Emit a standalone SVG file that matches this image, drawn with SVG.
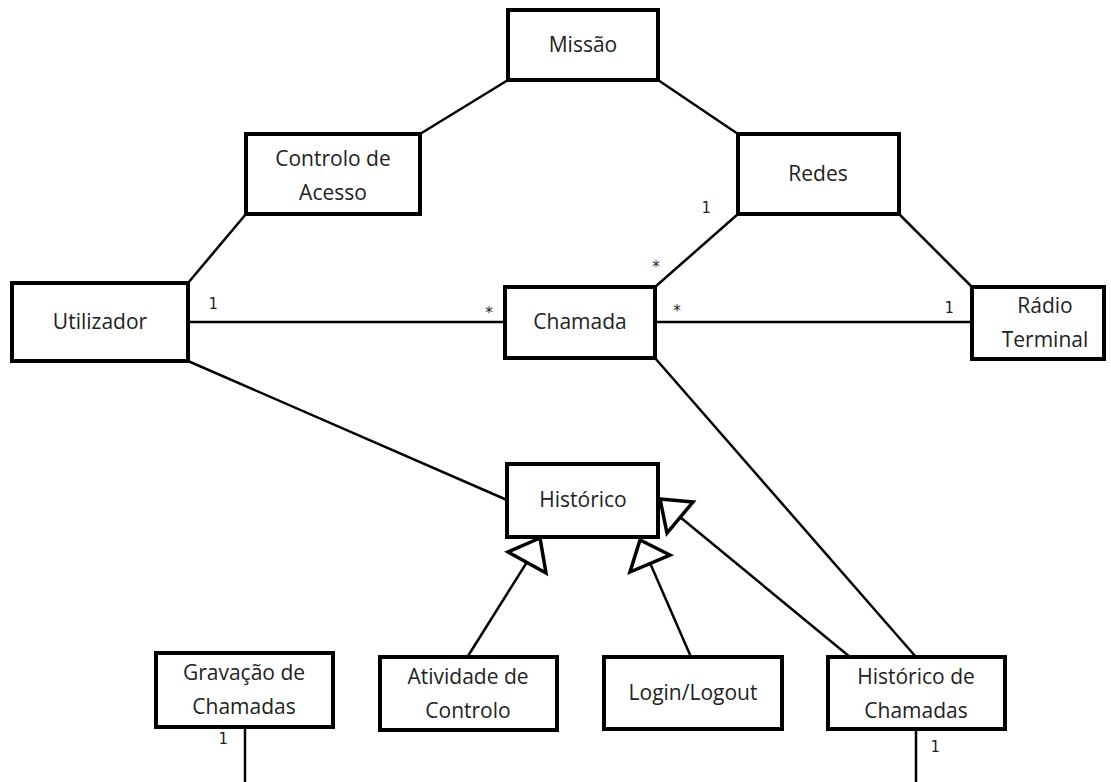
<svg xmlns="http://www.w3.org/2000/svg" width="1111" height="782" viewBox="0 0 1111 782">
<style>
.box{fill:#fff;stroke:#000;stroke-width:4}
.t{font-family:"Open Sans","Noto Sans",sans-serif;font-size:21px;fill:#222;text-anchor:middle}
.m{font-family:"DejaVu Sans Mono","Liberation Mono",monospace;font-size:15px;fill:#222;text-anchor:middle}
.ln{stroke:#000;stroke-width:2.5;fill:none}
.tri{fill:#fff;stroke:#000;stroke-width:3.5;stroke-linejoin:miter}
</style>
<rect width="1111" height="782" fill="#fff"/>
<g id="connectors">
<line class="ln" x1="508" y1="80" x2="420" y2="134"/>
<line class="ln" x1="658" y1="80" x2="738" y2="134"/>
<line class="ln" x1="246" y1="214" x2="188" y2="283"/>
<line class="ln" x1="738" y1="214" x2="655" y2="287"/>
<line class="ln" x1="899" y1="214" x2="972" y2="287"/>
<line class="ln" x1="188" y1="322" x2="505" y2="322"/>
<line class="ln" x1="655" y1="322" x2="972" y2="322"/>
<line class="ln" x1="188" y1="361" x2="507" y2="500"/>
<line class="ln" x1="655" y1="358" x2="916" y2="657"/>
<line class="ln" x1="468" y1="656" x2="527" y2="562"/>
<polygon class="tri" points="540,538 508,552 546,573"/>
<line class="ln" x1="691" y1="657" x2="650" y2="563"/>
<polygon class="tri" points="640,540 630,572 670,555"/>
<line class="ln" x1="850" y1="657" x2="680" y2="517"/>
<polygon class="tri" points="660,499 693,502 667,533"/>
<line class="ln" x1="245" y1="727" x2="245" y2="782"/>
<line class="ln" x1="916" y1="729" x2="916" y2="782"/>
<text class="m" x="706" y="213">1</text>
<text class="m" x="656" y="272">*</text>
<text class="m" x="213" y="309">1</text>
<text class="m" x="489" y="318">*</text>
<text class="m" x="677" y="316">*</text>
<text class="m" x="949" y="313">1</text>
<text class="m" x="223" y="744">1</text>
<text class="m" x="935" y="752">1</text>
</g>
<g id="missao"><rect class="box" x="508" y="10" width="150" height="70"/><text class="t" x="583" y="52">Missão</text></g>
<g id="controlo"><rect class="box" x="246" y="134" width="174" height="80"/><text class="t" x="333" y="166">Controlo de</text><text class="t" x="333" y="200">Acesso</text></g>
<g id="redes"><rect class="box" x="738" y="134" width="161" height="80"/><text class="t" x="818" y="181">Redes</text></g>
<g id="utilizador"><rect class="box" x="12" y="283" width="176" height="78"/><text class="t" x="100" y="329">Utilizador</text></g>
<g id="chamada"><rect class="box" x="505" y="287" width="150" height="71"/><text class="t" x="580" y="329">Chamada</text></g>
<g id="radio"><rect class="box" x="972" y="287" width="132" height="72"/><text class="t" x="1045" y="313">Rádio</text><text class="t" x="1045" y="347">Terminal</text></g>
<g id="historico"><rect class="box" x="507" y="464" width="151" height="73"/><text class="t" x="583" y="507">Histórico</text></g>
<g id="gravacao"><rect class="box" x="156" y="653" width="177" height="74"/><text class="t" x="244" y="680">Gravação de</text><text class="t" x="244" y="714">Chamadas</text></g>
<g id="atividade"><rect class="box" x="380" y="657" width="177" height="73"/><text class="t" x="468" y="684">Atividade de</text><text class="t" x="468" y="718">Controlo</text></g>
<g id="login"><rect class="box" x="604" y="657" width="178" height="72"/><text class="t" x="693" y="700">Login/Logout</text></g>
<g id="histchamadas"><rect class="box" x="828" y="657" width="177" height="72"/><text class="t" x="916" y="684">Histórico de</text><text class="t" x="916" y="718">Chamadas</text></g>
</svg>
